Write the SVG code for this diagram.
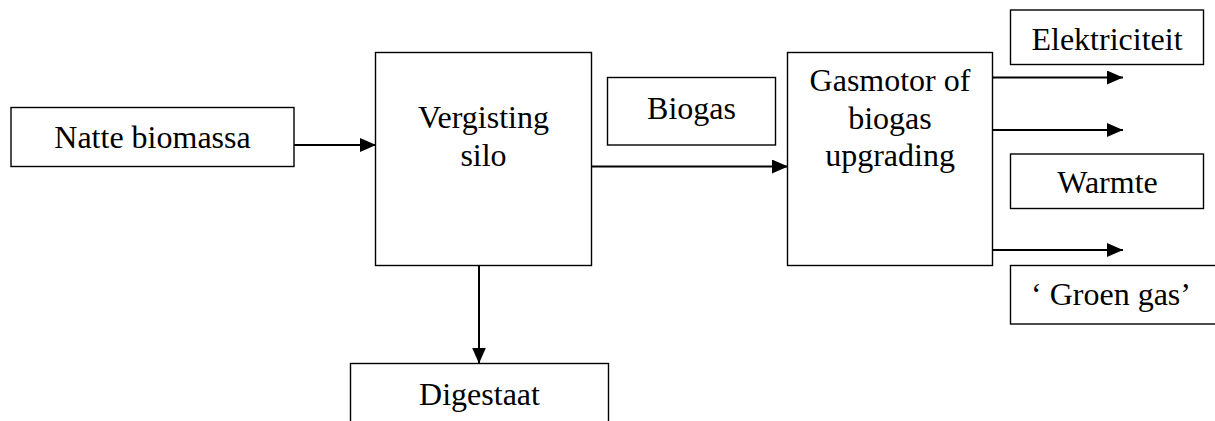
<svg xmlns="http://www.w3.org/2000/svg" width="1215" height="421" viewBox="0 0 1215 421">
<style>
.box{fill:#fff;stroke:#000;stroke-width:1.4}
.lbl{font-family:"Liberation Serif","Times New Roman",serif;font-size:32px;fill:#000;text-anchor:middle}
.conn{stroke:#000;stroke-width:2;fill:none}
</style>
<defs>
<marker id="ah" markerUnits="userSpaceOnUse" markerWidth="16" markerHeight="14" refX="16" refY="7" orient="auto">
<path d="M0,0 L16,7 L0,14 Z" fill="#000"/>
</marker>
</defs>
<rect width="1215" height="421" fill="#fff"/>
<g id="natte">
<rect class="box" x="11" y="107.5" width="283" height="59"/>
<text class="lbl" x="152.5" y="148">Natte biomassa</text>
</g>
<g id="vergisting">
<rect class="box" x="375.5" y="52.5" width="216" height="213"/>
<text class="lbl" x="483.5" y="128">Vergisting</text>
<text class="lbl" x="483.5" y="166">silo</text>
</g>
<g id="biogas">
<rect class="box" x="607.5" y="77.5" width="168" height="67.5"/>
<text class="lbl" x="691.5" y="118.5">Biogas</text>
</g>
<g id="gasmotor">
<rect class="box" x="787.5" y="52.5" width="205" height="213"/>
<text class="lbl" x="890" y="90.5">Gasmotor of</text>
<text class="lbl" x="890" y="128.5">biogas</text>
<text class="lbl" x="890" y="165.5">upgrading</text>
</g>
<g id="digestaat">
<rect class="box" x="350.5" y="363.5" width="258" height="70"/>
<text class="lbl" x="479.5" y="404.5">Digestaat</text>
</g>
<g id="elektriciteit">
<rect class="box" x="1010.5" y="10" width="193" height="54.5"/>
<text class="lbl" x="1107" y="50">Elektriciteit</text>
</g>
<g id="warmte">
<rect class="box" x="1010.5" y="154" width="193" height="54.5"/>
<text class="lbl" x="1107.5" y="192.5">Warmte</text>
</g>
<g id="groengas">
<rect class="box" x="1010.5" y="265.5" width="220" height="58.5"/>
<text class="lbl" x="1111" y="305">‘ Groen gas’</text>
</g>
<g id="connectors">
<line class="conn" x1="294" y1="145" x2="376" y2="145" marker-end="url(#ah)"/>
<line class="conn" x1="591.5" y1="166.5" x2="788" y2="166.5" marker-end="url(#ah)"/>
<line class="conn" x1="479" y1="265.5" x2="479" y2="363.5" marker-end="url(#ah)"/>
<line class="conn" x1="992.5" y1="77.5" x2="1123" y2="77.5" marker-end="url(#ah)"/>
<line class="conn" x1="992.5" y1="130" x2="1123" y2="130" marker-end="url(#ah)"/>
<line class="conn" x1="992.5" y1="250" x2="1123" y2="250" marker-end="url(#ah)"/>
</g>
</svg>
